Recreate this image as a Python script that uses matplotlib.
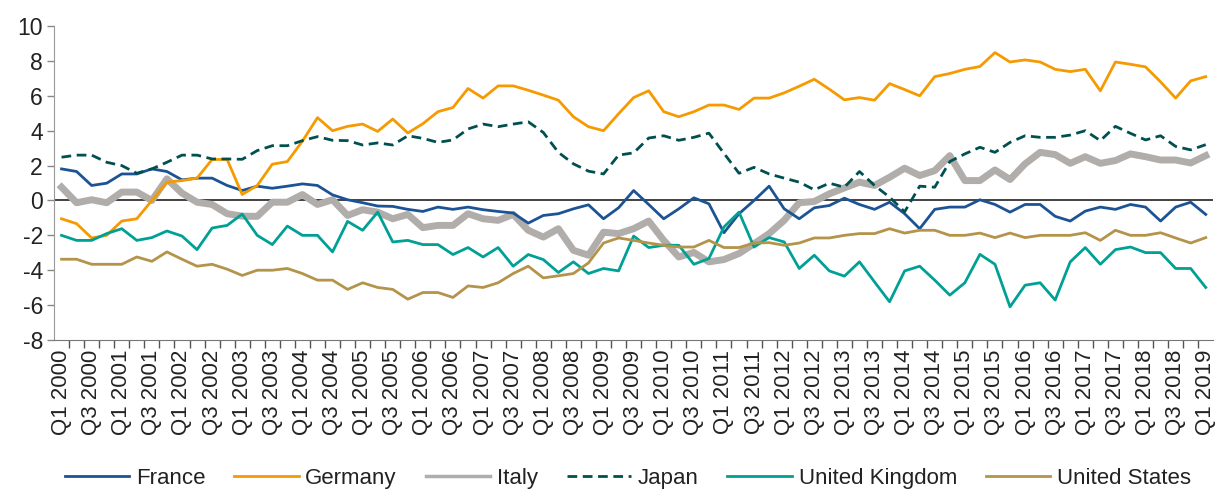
import numpy as np
import matplotlib as mpl
import matplotlib.pyplot as plt

mpl.rcParams['font.family'] = ['Liberation Sans', 'DejaVu Sans']

# quarters Q1 2000 .. Q1 2019
quarters = ['Q%d %d' % (q, y) for y in range(2000, 2020) for q in (1, 2, 3, 4)][:77]

france = [1.81, 1.66, 0.86, 0.99, 1.52, 1.52, 1.81, 1.66, 1.18, 1.28, 1.28, 0.86, 0.57,
          0.82, 0.70, 0.82, 0.95, 0.86, 0.32, 0.04, -0.13, -0.32, -0.34, -0.51, -0.63,
          -0.38, -0.51, -0.38, -0.53, -0.63, -0.72, -1.30, -0.86, -0.76, -0.48, -0.25,
          -1.05, -0.42, 0.57, -0.23, -1.05, -0.48, 0.15, -0.19, -1.85, -0.76, 0.00, 0.82,
          -0.48, -1.05, -0.42, -0.29, 0.13, -0.23, -0.51, -0.10, -0.76, -1.62, -0.51,
          -0.38, -0.38, 0.04, -0.23, -0.67, -0.23, -0.23, -0.91, -1.18, -0.61, -0.38,
          -0.51, -0.23, -0.38, -1.18, -0.38, -0.10, -0.80]
germany = [-1.05, -1.33, -2.15, -2.00, -1.18, -1.05, 0.00, 1.05, 1.14, 1.28, 2.35, 2.35,
           0.34, 0.86, 2.08, 2.23, 3.40, 4.75, 4.00, 4.25, 4.38, 3.96, 4.67, 3.87, 4.40,
           5.09, 5.33, 6.42, 5.87, 6.57, 6.57, 6.32, 6.04, 5.75, 4.80, 4.23, 4.00, 4.97,
           5.90, 6.29, 5.09, 4.80, 5.09, 5.47, 5.47, 5.22, 5.87, 5.87, 6.17, 6.55, 6.95,
           6.38, 5.77, 5.90, 5.75, 6.70, 6.36, 6.00, 7.10, 7.28, 7.52, 7.68, 8.48, 7.94,
           8.06, 7.94, 7.52, 7.39, 7.52, 6.29, 7.94, 7.81, 7.66, 6.80, 5.87, 6.86, 7.10]
italy = [0.76, -0.13, 0.04, -0.13, 0.48, 0.48, 0.00, 1.24, 0.42, -0.10, -0.23, -0.76,
         -0.90, -0.91, -0.10, -0.10, 0.34, -0.23, 0.04, -0.86, -0.53, -0.67, -1.05, -0.80,
         -1.56, -1.43, -1.43, -0.76, -1.05, -1.14, -0.80, -1.71, -2.10, -1.62, -2.86,
         -3.14, -1.82, -1.90, -1.62, -1.18, -2.29, -3.24, -2.98, -3.52, -3.39, -3.04,
         -2.48, -1.90, -1.14, -0.13, -0.06, 0.38, 0.72, 1.05, 0.86, 1.33, 1.85, 1.43,
         1.71, 2.57, 1.14, 1.14, 1.75, 1.20, 2.10, 2.76, 2.63, 2.13, 2.51, 2.13, 2.29,
         2.67, 2.51, 2.32, 2.32, 2.15, 2.57]
japan = [2.48, 2.60, 2.60, 2.19, 2.00, 1.56, 1.81, 2.19, 2.60, 2.60, 2.38, 2.38, 2.36,
         2.86, 3.14, 3.14, 3.43, 3.66, 3.45, 3.43, 3.18, 3.30, 3.18, 3.71, 3.56, 3.33,
         3.47, 4.10, 4.38, 4.23, 4.38, 4.51, 3.90, 2.76, 2.10, 1.68, 1.52, 2.60, 2.73,
         3.58, 3.71, 3.45, 3.62, 3.86, 2.70, 1.56, 1.90, 1.52, 1.28, 1.05, 0.61, 0.99,
         0.76, 1.66, 0.86, 0.19, -0.65, 0.82, 0.76, 2.23, 2.67, 3.05, 2.76, 3.33, 3.71,
         3.62, 3.62, 3.75, 4.00, 3.43, 4.25, 3.85, 3.47, 3.71, 3.10, 2.90, 3.20]
uk = [-2.00, -2.29, -2.29, -1.90, -1.62, -2.29, -2.13, -1.75, -2.04, -2.82, -1.58, -1.43,
      -0.78, -2.00, -2.53, -1.47, -2.00, -2.00, -2.95, -1.20, -1.71, -0.67, -2.38, -2.29,
      -2.53, -2.53, -3.10, -2.70, -3.24, -2.70, -3.77, -3.10, -3.39, -4.13, -3.52, -4.19,
      -3.90, -4.04, -2.04, -2.70, -2.57, -2.57, -3.66, -3.33, -1.52, -0.67, -2.67, -2.13,
      -2.38, -3.90, -3.14, -4.04, -4.34, -3.52, -4.67, -5.81, -4.04, -3.77, -4.57, -5.43,
      -4.72, -3.09, -3.66, -6.10, -4.86, -4.72, -5.71, -3.52, -2.70, -3.66, -2.82, -2.67,
      -2.99, -2.99, -3.90, -3.90, -4.99]
us = [-3.37, -3.37, -3.66, -3.66, -3.66, -3.24, -3.49, -2.95, -3.37, -3.77, -3.66, -3.94,
      -4.30, -4.00, -4.00, -3.90, -4.19, -4.57, -4.57, -5.10, -4.72, -4.99, -5.10, -5.66,
      -5.28, -5.28, -5.56, -4.90, -4.99, -4.72, -4.19, -3.77, -4.44, -4.32, -4.19, -3.58,
      -2.44, -2.15, -2.29, -2.44, -2.57, -2.67, -2.67, -2.29, -2.70, -2.70, -2.44, -2.42,
      -2.57, -2.44, -2.15, -2.15, -2.00, -1.90, -1.90, -1.62, -1.87, -1.71, -1.71, -2.00,
      -2.00, -1.87, -2.13, -1.87, -2.13, -2.00, -2.00, -2.00, -1.85, -2.29, -1.71, -2.00,
      -2.00, -1.85, -2.15, -2.44, -2.13]

x = np.arange(len(quarters))

fig = plt.figure(figsize=(12.19, 4.92), dpi=100)
ax = fig.add_axes([0.0443, 0.309, 0.951, 0.638])

ax.axhline(0, color='#333333', lw=1.3, zorder=1)
ax.plot(x, france, color='#1c5395', lw=2.0, label='France', zorder=3)
ax.plot(x, germany, color='#f59a00', lw=2.0, label='Germany', zorder=3)
ax.plot(x, italy, color='#b0adaa', lw=5.0, label='Italy', zorder=2)
ax.plot(x, japan, color='#00504f', lw=2.0, ls=(0, (3.5, 2.0)), label='Japan', zorder=3)
ax.plot(x, uk, color='#00a096', lw=2.0, label='United Kingdom', zorder=3)
ax.plot(x, us, color='#b4934a', lw=2.0, label='United States', zorder=3)

ax.set_xlim(-0.5, len(x) - 0.5)
ax.set_ylim(-8, 10)
ax.set_yticks(np.arange(-8, 11, 2))
ax.set_yticklabels([str(v) for v in range(-8, 11, 2)])
ax.tick_params(axis='y', length=5, width=1, color='#888888', labelsize=16.5,
               labelcolor='#222222', pad=3)

ax.set_xticks(x[::2])
ax.set_xticklabels(quarters[::2], rotation=90, fontsize=16, color='#222222')
ax.set_xticks(np.arange(0.5, len(x) - 0.5, 1), minor=True)
ax.tick_params(axis='x', which='major', length=0, pad=7)
ax.tick_params(axis='x', which='minor', length=6, width=1, color='#555555')

for s in ['top', 'right']:
    ax.spines[s].set_visible(False)
ax.spines['left'].set_color('#999999')
ax.spines['bottom'].set_color('#777777')

leg = fig.legend(loc='lower center', bbox_to_anchor=(0.515, -0.035), ncol=6, frameon=False,
                 fontsize=16, handlelength=2.9, columnspacing=1.3, handletextpad=0.3,
                 labelcolor='#222222')
leg.legend_handles[2].set_linewidth(2.5)

fig.savefig('out.png', dpi=100)
